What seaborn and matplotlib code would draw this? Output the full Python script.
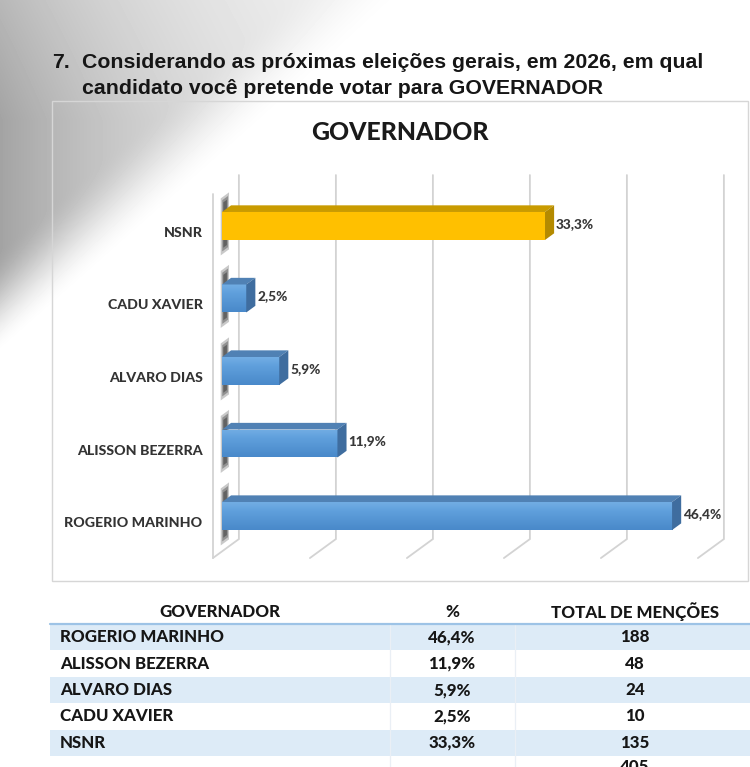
import numpy as np
import pandas as pd
import matplotlib
matplotlib.use('Agg')
import matplotlib.pyplot as plt
from matplotlib.patches import Polygon, Rectangle
import matplotlib.transforms as mtransforms
import seaborn as sns

# ─────────────────────────────────────────────
# DADOS
# ─────────────────────────────────────────────
candidatos  = ["ROGERIO MARINHO", "ALISSON BEZERRA", "ALVARO DIAS", "CADU XAVIER", "NSNR"]
percentuais = [46.4, 11.9, 5.9, 2.5, 33.3]
mencoes     = [188, 48, 24, 10, 135]
total_mencoes = 405

cabecalho = ["GOVERNADOR", "%", "TOTAL DE MENÇÕES"]
titulo    = "GOVERNADOR"
pergunta  = ["Considerando as próximas eleições gerais, em 2026, em qual",
             "candidato você pretende votar para GOVERNADOR"]

# cores (frente, topo, lateral)
azul    = ("#5B9BD5", "#5081B4", "#3F6D9F")
amarelo = ("#FFC000", "#C99B00", "#B48A00")
cores = {c: (amarelo if c == "NSNR" else azul) for c in candidatos}

def fmt(v):
    return f"{v:.1f}".replace(".", ",") + "%"

# ─────────────────────────────────────────────
# FIGURA
# ─────────────────────────────────────────────
W, H, DPI = 750, 767, 100
sns.set_theme(style="white")
plt.rcParams["font.family"] = ["Lato", "DejaVu Sans"]

fig = plt.figure(figsize=(W / DPI, H / DPI), dpi=DPI)
fig.patch.set_facecolor("white")

fundo = fig.add_axes([0, 0, 1, 1])
fundo.set_xlim(0, W)
fundo.set_ylim(H, 0)
fundo.axis("off")

# sombra cinza no canto superior esquerdo
xx, yy = np.meshgrid(np.arange(W) + 0.5, np.arange(H) + 0.5)
d = xx / 410 + yy / 355
t = np.clip((1.0 - d) / 0.30, 0, 1)
borda = t * t * (3 - 2 * t)
intens = 0.36 * np.exp(-xx / 230) * (0.78 + 0.22 * np.clip(yy / 120, 0, 1))
sombra = intens * borda
fundo.imshow(1 - sombra, cmap="gray", vmin=0, vmax=1, extent=(0, W, H, 0),
             aspect="auto", interpolation="bilinear", zorder=0)

# pergunta
fonte_q = dict(family=["Liberation Sans", "DejaVu Sans"], weight="bold",
               fontsize=15.3, color="#161616", va="center")
fundo.text(52, 62, "7.", **fonte_q)
fundo.text(82, 62, pergunta[0], **fonte_q)
fundo.text(82, 88, pergunta[1], **fonte_q)

# moldura do gráfico
fundo.add_patch(Rectangle((52, 101), 696, 480, fill=False, ec="#D6D6D6", lw=1, zorder=1))
fundo.text(400, 133, titulo, ha="center", va="center", fontsize=17.8,
           weight=900, color="#1a1a1a")

# ─────────────────────────────────────────────
# GRÁFICO DE BARRAS (pseudo 3D)
# ─────────────────────────────────────────────
ordem = candidatos[::-1]          # NSNR em cima
df = pd.DataFrame({"candidato": candidatos, "pct": percentuais})

x0_px, px_pct = 222, 9.7
y_top_px, y_bot_px = 187.4, 551.4
ax = fig.add_axes([x0_px / W, (H - y_bot_px) / H, 50 * px_pct / W, (y_bot_px - y_top_px) / H])
ax.patch.set_alpha(0)

sns.barplot(data=df, x="pct", y="candidato", hue="candidato", order=ordem,
            hue_order=ordem, palette={c: cores[c][0] for c in candidatos},
            width=0.386, saturation=1, edgecolor="none", legend=False, ax=ax, zorder=3)

YLIM = (4.488, -0.532)
ax.set_xlim(0, 50)
ax.set_ylim(*YLIM)
sns.despine(ax=ax, left=True, bottom=True)
ax.set_xticks([])
ax.set_xlabel("")
ax.set_ylabel("")

# profundidade: vetor completo (26, 19) px, barras entre f=0.35 e f=0.70
F_FRENTE, F_FUNDO = 0.35, 0.70
DX, DY = 26, 19

def desloca(x, y, f):
    px, py = ax.transData.transform((x, y))
    px += (f - F_FRENTE) * DX
    py += (f - F_FRENTE) * DY
    return ax.transData.inverted().transform((px, py))

grade = "#D3D3D3"
yt, yb = YLIM[1], YLIM[0]
for k in range(6):
    xk = 10 * k
    p1, p2, p3 = desloca(xk, yt, 1), desloca(xk, yb, 1), desloca(xk, yb, 0)
    ax.plot([p1[0], p2[0], p3[0]], [p1[1], p2[1], p3[1]], color=grade,
            lw=1.3, clip_on=False, zorder=1, solid_joinstyle="miter")
# parede esquerda (aresta da frente)
q1, q2 = desloca(0, yt, 0), desloca(0, yb, 0)
ax.plot([q1[0], q2[0]], [q1[1], q2[1]], color=grade, lw=1.3, clip_on=False, zorder=1)

cmap_azul = matplotlib.colors.LinearSegmentedColormap.from_list(
    "az", [(0, "#72ADE4"), (0.3, "#60A0DC"), (1, "#4989CA")])

# faces das barras
for patch in ax.patches[:]:
    w = patch.get_width()
    ya, yb_ = patch.get_y(), patch.get_y() + patch.get_height()
    y_sup, y_inf = min(ya, yb_), max(ya, yb_)
    yc = (y_sup + y_inf) / 2
    nome = ordem[int(round(yc))]
    frente, topo, lado = cores[nome]

    # sombra da barra na parede
    for ext, f0, f1, alpha in [(0.20, 0.30, 0.62, 0.25), (0.16, 0.36, 0.58, 0.35),
                               (0.12, 0.40, 0.54, 0.45)]:
        cantos = [desloca(0, y_sup - ext, f0), desloca(0, y_sup - ext, f1),
                  desloca(0, y_inf + ext, f1), desloca(0, y_inf + ext, f0)]
        ax.add_patch(Polygon(cantos, closed=True, fc="#2a2a2a", ec="none",
                             alpha=alpha, zorder=2, clip_on=False))

    # degradê na face frontal
    if nome != "NSNR":
        im = ax.imshow(np.linspace(0, 1, 32)[:, None], cmap=cmap_azul, aspect="auto",
                       extent=(0, w, y_inf, y_sup), zorder=3.5, interpolation="bilinear")
        im.set_clip_path(patch)

    cima = [(0, y_sup), (w, y_sup), desloca(w, y_sup, F_FUNDO), desloca(0, y_sup, F_FUNDO)]
    ax.add_patch(Polygon(cima, closed=True, fc=topo, ec="none", zorder=4, clip_on=False))
    direita = [(w, y_sup), desloca(w, y_sup, F_FUNDO), desloca(w, y_inf, F_FUNDO), (w, y_inf)]
    ax.add_patch(Polygon(direita, closed=True, fc=lado, ec="none", zorder=4, clip_on=False))

    ax.annotate(fmt(w), xy=(w, yc), xytext=(11, 2), textcoords="offset pixels",
                ha="left", va="center", fontsize=9.8, weight=900,
                color="#383838", annotation_clip=False, zorder=5)

ax.set_xlim(0, 50)
ax.set_ylim(*YLIM)

# rótulos das categorias
ax.tick_params(axis="y", length=0, pad=14, labelsize=10.2, labelcolor="#333333")
desc = mtransforms.ScaledTranslation(0, -6 / DPI, fig.dpi_scale_trans)
for lab in ax.get_yticklabels():
    lab.set_fontweight(900)
    lab.set_transform(lab.get_transform() + desc)

# ─────────────────────────────────────────────
# TABELA
# ─────────────────────────────────────────────
fonte_t = dict(fontsize=12.2, weight=900, color="#161616", va="center")
col_x = [60, 452, 635]
fundo.text(220, 612, cabecalho[0], ha="center", **fonte_t)
fundo.text(col_x[1], 612, cabecalho[1], ha="center", **fonte_t)
fundo.text(col_x[2], 612, cabecalho[2], ha="center", **fonte_t)

topo_tab, alt_lin = 624, 26.4
for i, (nome, p, m) in enumerate(zip(candidatos, percentuais, mencoes)):
    y0 = topo_tab + i * alt_lin
    if i % 2 == 0:
        fundo.add_patch(Rectangle((50, y0), 700, alt_lin, fc="#DDEBF7", ec="none", zorder=1))
    yc = y0 + alt_lin / 2
    fundo.text(col_x[0], yc, nome, ha="left", **fonte_t)
    fundo.text(col_x[1], yc, fmt(p), ha="center", **fonte_t)
    fundo.text(col_x[2], yc, str(m), ha="center", **fonte_t)

# total, cortado na borda inferior como no original
fundo.text(col_x[2], topo_tab + 5 * alt_lin + 11, str(total_mencoes), ha="center", **fonte_t)

for xs in [390, 515]:
    fundo.plot([xs, xs], [topo_tab, H], color="#EAEFF5", lw=0.9, zorder=1.5)
fundo.plot([50, 750], [623.5, 623.5], color="#9DC3E6", lw=1.6, zorder=2)

fig.savefig("out.png", dpi=DPI)
plt.close(fig)
